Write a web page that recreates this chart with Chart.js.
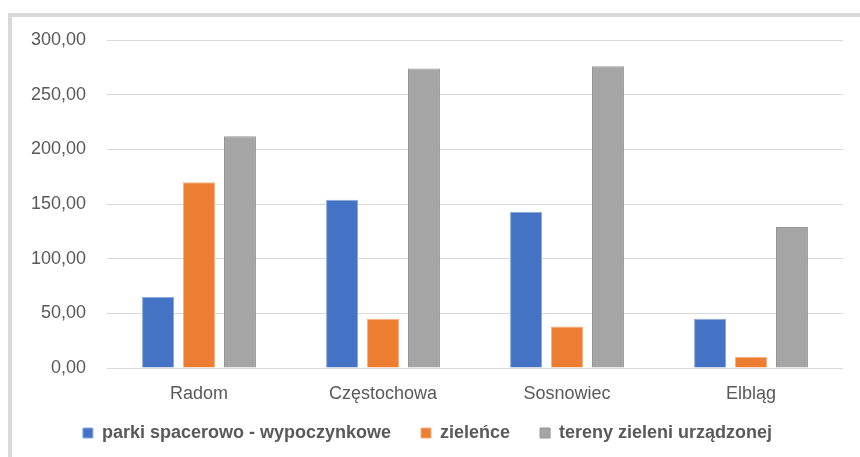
<!DOCTYPE html>
<html>
<head>
<meta charset="utf-8">
<script src="https://cdn.jsdelivr.net/npm/chart.js@4/dist/chart.umd.min.js"></script>
<style>
  html, body { margin: 0; padding: 0; background: #ffffff; overflow: hidden; }
  #frame {
    position: absolute; left: 8px; top: 13px;
    width: 900px; height: 500px;
    border-top: 4px solid #d9d9d9; border-left: 4px solid #d9d9d9;
    background: #fff;
  }
  #wrap { position: absolute; left: 0; top: 0; width: 848px; height: 440px; }
</style>
</head>
<body>
<div id="frame"><div id="wrap"><canvas id="c"></canvas></div></div>
<script>
const categories = ["Radom", "Częstochowa", "Sosnowiec", "Elbląg"];
const seriesNames = ["parki spacerowo - wypoczynkowe", "zieleńce", "tereny zieleni urządzonej"];
const parki = [65, 154, 143, 45];
const zielence = [170, 45, 38, 10];
const tereny = [212, 274, 276, 129];
const yTicks = [0, 50, 100, 150, 200, 250, 300];

const fontFam = "'Liberation Sans', Arial, sans-serif";
const txt = "#595959";

// let the category labels extend below the fitted axis box without being clipped
const unclipX = {
  id: 'unclipX',
  afterLayout(chart) { const s = chart.scales.x; s.bottom = s.top + 40; }
};

new Chart(document.getElementById('c'), {
  type: 'bar',
  plugins: [unclipX],
  data: {
    labels: categories,
    datasets: [
      { label: seriesNames[0], data: parki, backgroundColor: '#4472C4', borderColor: '#8eaadc', borderWidth: 1 },
      { label: seriesNames[1], data: zielence, backgroundColor: '#ED7D31', borderColor: '#f5b183', borderWidth: 1 },
      { label: seriesNames[2], data: tereny, backgroundColor: '#A5A5A5', borderColor: '#969696', borderWidth: 1 }
    ]
  },
  options: {
    responsive: true,
    maintainAspectRatio: false,
    animation: false,
    layout: { padding: { left: 0, right: 17, top: 23, bottom: 5 } },
    datasets: { bar: { categoryPercentage: 0.668, barPercentage: 0.78 } },
    plugins: {
      tooltip: { enabled: false },
      legend: {
        position: 'bottom',
        labels: {
          boxWidth: 10, boxHeight: 10, padding: 30,
          color: txt,
          font: { family: fontFam, size: 18, weight: 'bold' }
        }
      }
    },
    scales: {
      x: {
        grid: { display: false, drawTicks: false },
        border: { display: false },
        afterFit: (s) => { s.height = 26; },
        ticks: { color: txt, font: { family: fontFam, size: 18 }, padding: 15 }
      },
      y: {
        min: 0, max: 300,
        afterFit: (s) => { s.width = 95; s.paddingTop = 0; s.paddingBottom = 0; },
        afterBuildTicks: (s) => { s.ticks = yTicks.map(v => ({ value: v })); },
        grid: { color: '#d9d9d9', lineWidth: 1, drawTicks: false },
        border: { display: false },
        ticks: {
          color: txt, padding: 21,
          font: { family: fontFam, size: 18 },
          callback: (v) => Number(v).toFixed(2).replace('.', ',')
        }
      }
    }
  }
});
</script>
</body>
</html>
